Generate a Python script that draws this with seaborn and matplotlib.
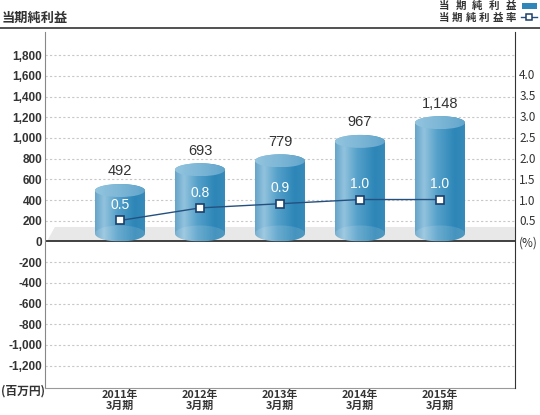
import numpy as np
import pandas as pd
import matplotlib
matplotlib.use('Agg')
import matplotlib.pyplot as plt
import seaborn as sns
from matplotlib.patches import Polygon, Ellipse, Rectangle
from matplotlib.colors import LinearSegmentedColormap
from matplotlib.lines import Line2D

# ---------------- data ----------------
years = ['2011年\n3月期', '2012年\n3月期', '2013年\n3月期', '2014年\n3月期', '2015年\n3月期']
net_income = [492, 693, 779, 967, 1148]
income_labels = ['492', '693', '779', '967', '1,148']
margin = [0.5, 0.8, 0.9, 1.0, 1.0]
margin_labels = ['0.5', '0.8', '0.9', '1.0', '1.0']
left_ticks = [-1200, -1000, -800, -600, -400, -200, 0, 200, 400, 600, 800, 1000, 1200, 1400, 1600, 1800]
right_ticks = [0, 0.5, 1.0, 1.5, 2.0, 2.5, 3.0, 3.5, 4.0]
right_tick_labels = ['(%)', '0.5', '1.0', '1.5', '2.0', '2.5', '3.0', '3.5', '4.0']
title = '当期純利益'
unit_label = '(百万円)'
legend_bar = '当期純利益'
legend_line = '当期純利益率'

CJK = ['Noto Sans CJK JP', 'DejaVu Sans']
plt.rcParams['font.family'] = ['Liberation Sans', 'Noto Sans CJK JP', 'DejaVu Sans']

W, H = 540, 415
fig = plt.figure(figsize=(W / 100, H / 100), dpi=100)
ax = fig.add_axes([45 / W, 27 / H, 470 / W, 356 / H])

df = pd.DataFrame({'year': years, 'income': net_income, 'margin': margin})
sns.barplot(data=df, x='year', y='income', ax=ax, width=0.625, color='#2f86b9', zorder=2)

XLIM = (-0.9375, 4.9375)
YLIM = (-1416, 2024)
ax.set_xlim(*XLIM)
ax.set_ylim(*YLIM)

# data units per pixel on the left axis
ypx = (YLIM[1] - YLIM[0]) / 356.0
ht = 13 * ypx   # top ellipse height
hb = 16 * ypx   # bottom ellipse height
yb = hb / 2

body_cmap = LinearSegmentedColormap.from_list('body', [
    (0.0, '#64a4c9'), (0.18, '#92c3dd'), (0.45, '#55a0ca'),
    (0.8, '#2c86b7'), (1.0, '#388bba')])
top_cmap = LinearSegmentedColormap.from_list('top', [
    (0.0, '#93c5df'), (0.5, '#7db6d6'), (1.0, '#62a6cc')])
grad = np.linspace(0, 1, 256).reshape(1, -1)

for p, v, lbl in zip(ax.patches, net_income, income_labels):
    x0 = p.get_x(); w = p.get_width(); x1 = x0 + w; xc = x0 + w / 2
    p.set_alpha(0)
    t = np.linspace(np.pi, 2 * np.pi, 60)
    lower = np.column_stack([xc + w / 2 * np.cos(t), yb + hb / 2 * np.sin(t)])
    t2 = np.linspace(0, np.pi, 60)
    upper = np.column_stack([xc + w / 2 * np.cos(t2), v + ht / 2 * np.sin(t2)])
    body = Polygon(np.vstack([lower, upper]), closed=True, facecolor='none', edgecolor='none')
    ax.add_patch(body)
    im = ax.imshow(grad, extent=[x0, x1, 0, v + ht / 2], aspect='auto', cmap=body_cmap,
                   zorder=2, interpolation='bilinear')
    im.set_clip_path(body)
    # bottom face highlight
    ax.add_patch(Ellipse((xc, yb), w, hb, facecolor='white', alpha=0.12, edgecolor='none', zorder=2.1))
    # top face
    top = Ellipse((xc, v), w, ht, facecolor='none', edgecolor='none')
    ax.add_patch(top)
    im2 = ax.imshow(grad, extent=[x0, x1, v - ht / 2, v + ht / 2], aspect='auto', cmap=top_cmap,
                    zorder=2.2, interpolation='bilinear')
    im2.set_clip_path(top)
    ax.annotate(lbl, (xc, v + ht / 2), xytext=(0, 4), textcoords='offset points',
                ha='center', va='bottom', fontsize=10.5, color='#333333')

ax.set_xlim(*XLIM)
ax.set_ylim(*YLIM)

# floor
ytr = ax.get_yaxis_transform()
floor = Polygon([(0.004, 0), (0.021, 140), (1.0, 140), (1.0, 0)], closed=True,
                transform=ytr, facecolor='#e8e8e8', edgecolor='none', zorder=1.2)
ax.add_patch(floor)

# grid
for tv in left_ticks:
    if tv != 0:
        ax.axhline(tv, color='#c8c8c8', lw=0.8, ls=(0, (2, 2)), zorder=1)
ax.axhline(0, color='#333333', lw=1.3, zorder=1.5)

ax.set_yticks(left_ticks)
ax.set_yticklabels([f'{v:,}' for v in left_ticks], fontsize=8.5, fontweight='bold', color='#333333')
ax.tick_params(axis='y', length=0, pad=2)
ax.set_xticks(range(len(years)))
ax.set_xticklabels(years, fontsize=7.8, fontweight='bold', color='#333333', linespacing=1.1,
                   family=CJK)
ax.tick_params(axis='x', length=0, pad=1.5)
ax.set_xlabel('')
ax.set_ylabel('')

for s in ['top', 'right']:
    ax.spines[s].set_visible(False)
ax.spines['left'].set_color('#888888')
ax.spines['bottom'].set_color('#999999')

# percentage line
ax2 = ax.twinx()
sns.lineplot(x=np.arange(len(margin)), y=margin, ax=ax2, color='#24507f', lw=1,
             marker='s', markersize=6, markerfacecolor='white', markeredgecolor='#1d3f6a',
             markeredgewidth=1.2, zorder=5)
for i, (m, lbl) in enumerate(zip(margin, margin_labels)):
    ax2.annotate(lbl, (i, m), xytext=(0, 6), textcoords='offset points', ha='center',
                 va='bottom', fontsize=10, color='white', zorder=6)
ax2.set_ylim(-3.5, 5.0)
ax2.set_xlim(*XLIM)
ax2.set_yticks(right_ticks)
ax2.set_yticklabels(right_tick_labels, fontsize=8.5, color='#333333', family=CJK)
ax2.tick_params(axis='y', length=0, pad=3)
ax2.set_ylabel('')
for s in ['top', 'left', 'bottom']:
    ax2.spines[s].set_visible(False)
ax2.spines['right'].set_color('#333333')

# header line and title
fig.add_artist(Line2D([0, 1], [1 - 28 / H] * 2, color='#333333', lw=1.2, transform=fig.transFigure))
fig.text(2 / W, 1 - 18 / H, title, ha='left', va='center', fontsize=9.5, fontweight='bold',
         color='#333333', family=CJK)
fig.text(1 / W, 1 - 391 / H, unit_label, ha='left', va='center', fontsize=8.5, fontweight='bold',
         color='#333333', family=CJK)

# legend (letter-spaced)
def spaced(text, x_first, x_last, yc):
    n = len(text)
    for k, ch in enumerate(text):
        xc = x_first + (x_last - x_first) * k / (n - 1)
        fig.text(xc / W, 1 - yc / H, ch, ha='center', va='center', fontsize=7.5,
                 fontweight='bold', color='#333333', family=CJK)

spaced(legend_bar, 444, 511, 6.3)
spaced(legend_line, 444, 511, 17.5)
fig.add_artist(Rectangle((521.7 / W, 1 - 9.3 / H), 15 / W, 6 / H, transform=fig.transFigure,
                         facecolor='#2f86b9', edgecolor='none'))
fig.add_artist(Line2D([521 / W, 537 / W], [1 - 17.3 / H] * 2, color='#24507f', lw=1,
                      transform=fig.transFigure))
fig.add_artist(Line2D([529 / W], [1 - 17.3 / H], marker='s', markersize=5, markerfacecolor='white',
                      markeredgecolor='#1d3f6a', markeredgewidth=1.1, transform=fig.transFigure))

fig.savefig('out.png', dpi=100)
